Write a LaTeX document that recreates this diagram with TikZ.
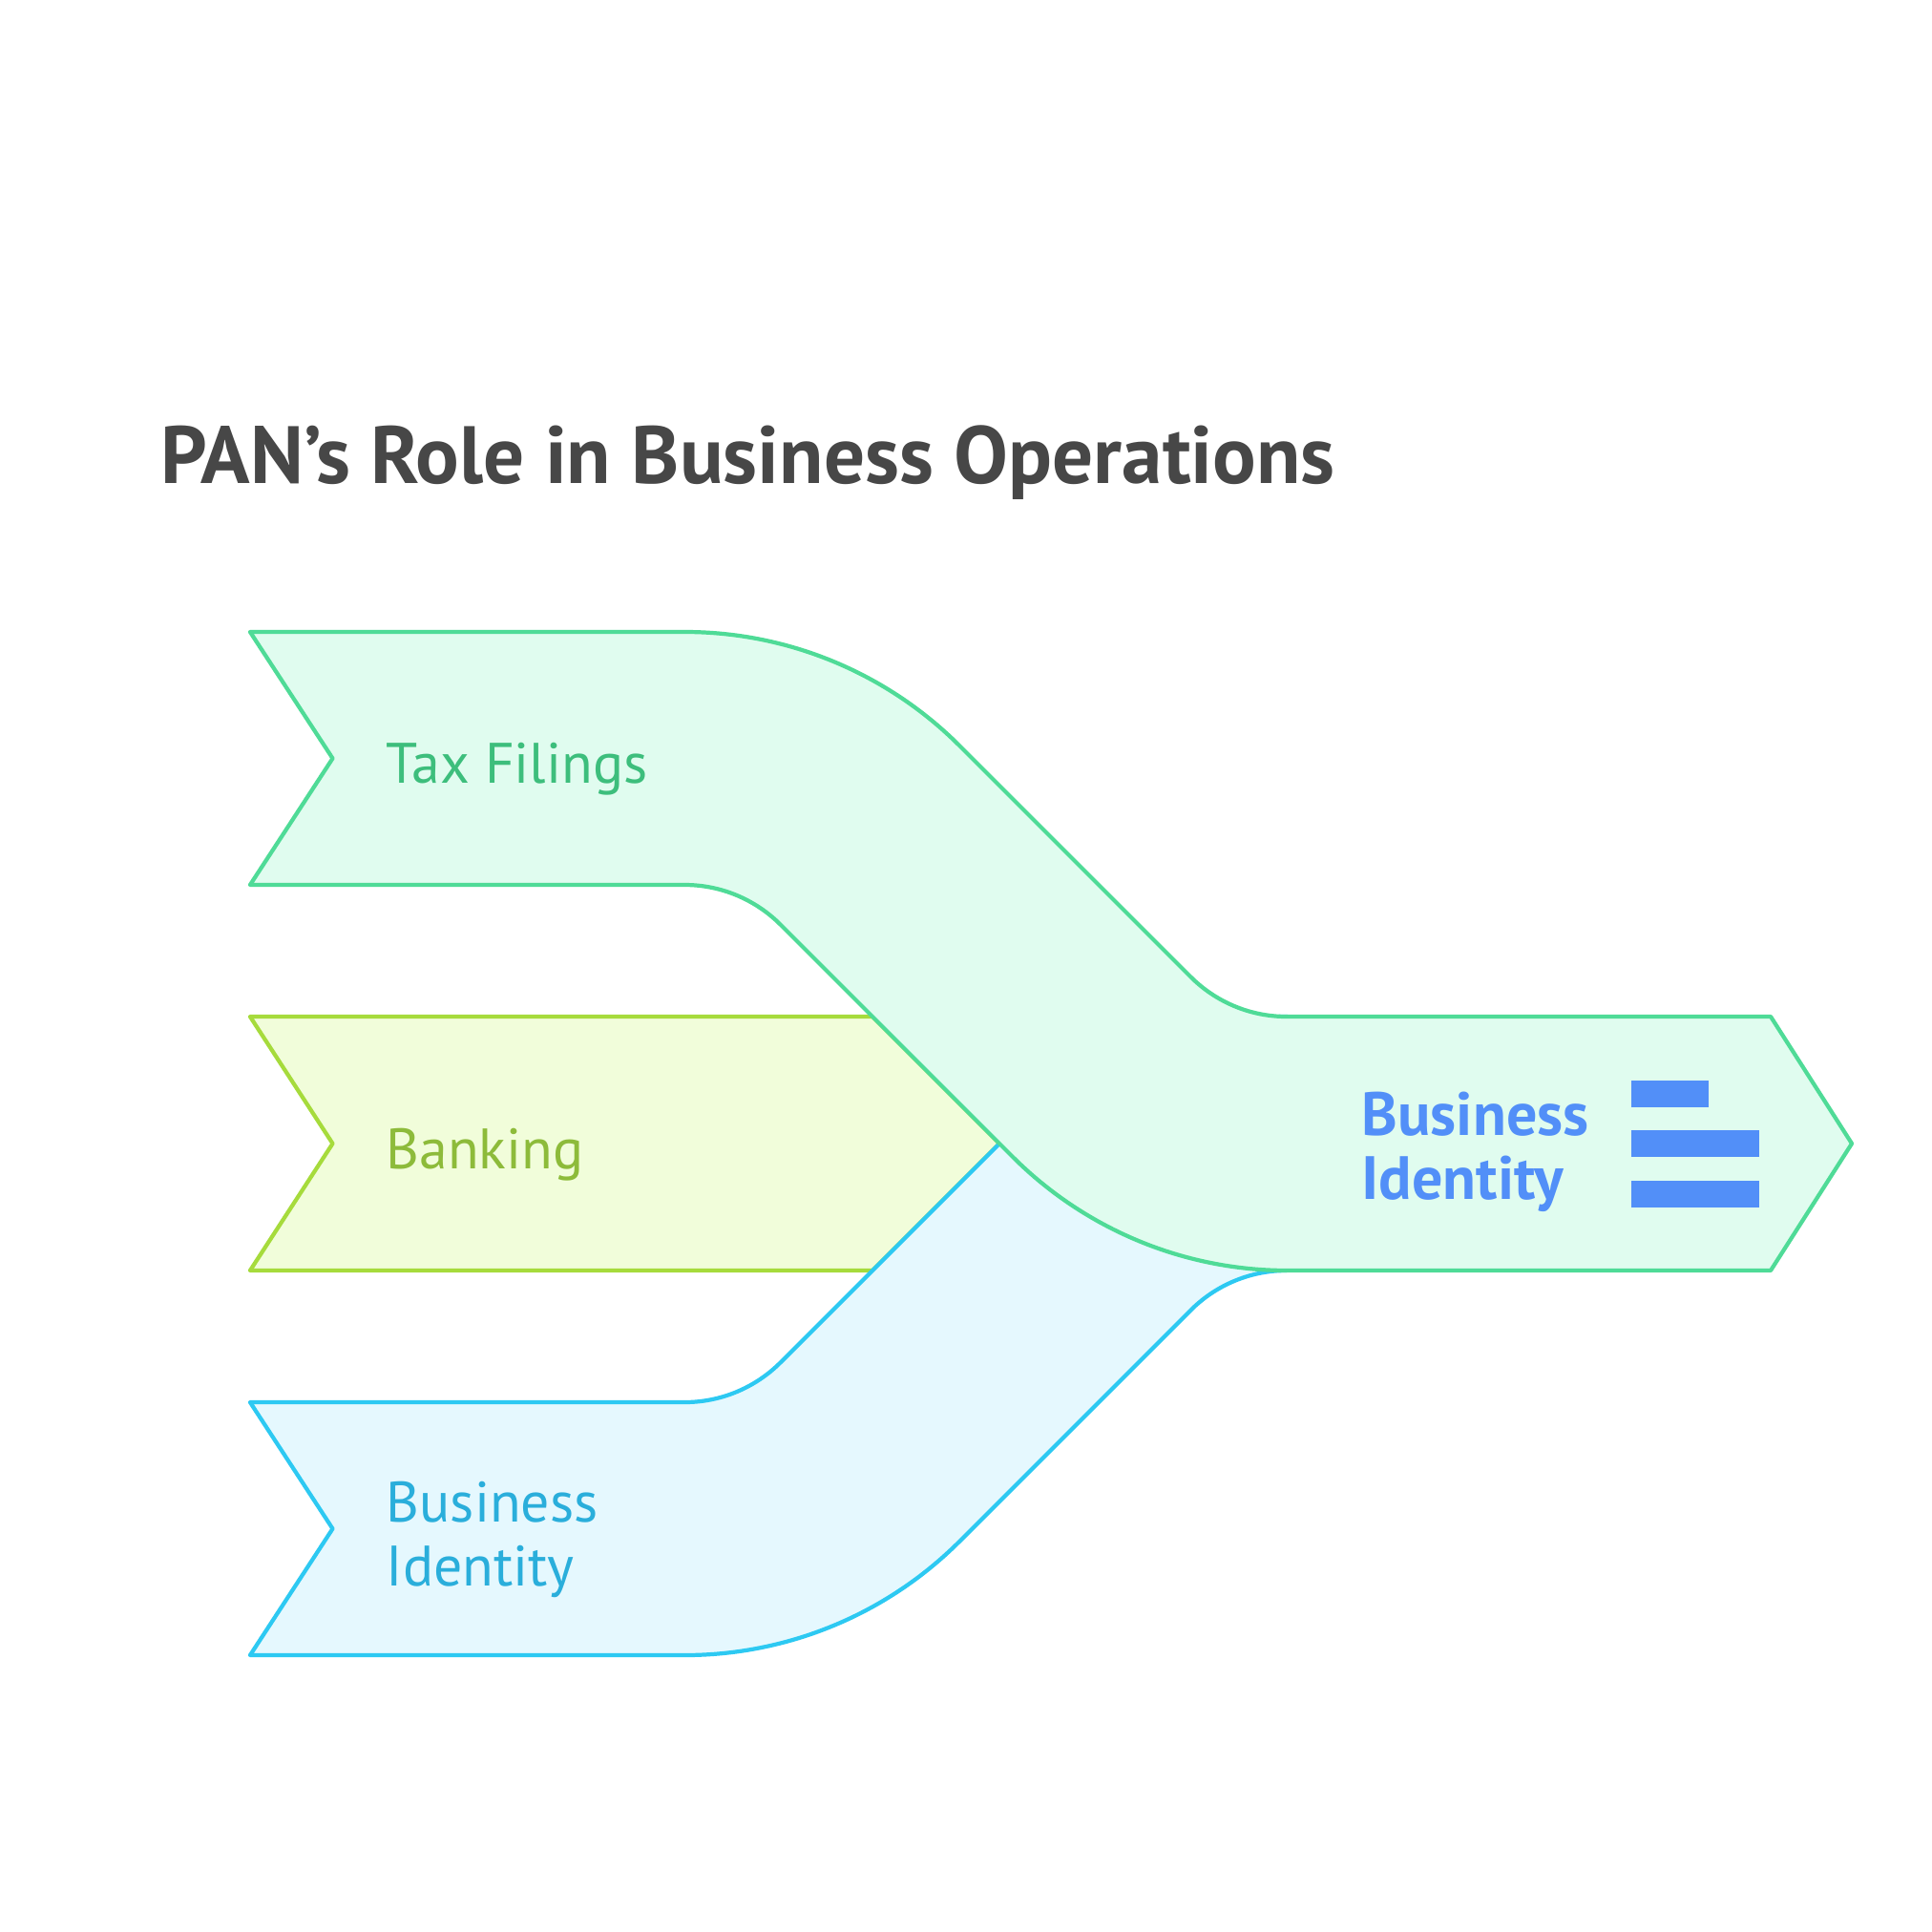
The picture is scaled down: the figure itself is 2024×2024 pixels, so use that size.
\documentclass[tikz,border=0pt]{standalone}
\usepackage{fontspec}
\setmainfont{PT Sans}
\usepackage{tikz}
\definecolor{titlegray}{HTML}{474747}
\definecolor{taxline}{HTML}{4FDB97}
\definecolor{taxfill}{HTML}{E0FCEF}
\definecolor{taxtext}{HTML}{3DBE7C}
\definecolor{bankline}{HTML}{A6DB3C}
\definecolor{bankfill}{HTML}{F1FDDA}
\definecolor{banktext}{HTML}{8DBB3A}
\definecolor{identline}{HTML}{2DC9F2}
\definecolor{identfill}{HTML}{E5F8FE}
\definecolor{identtext}{HTML}{2AAEDB}
\definecolor{outblue}{HTML}{528FF8}
\tikzstyle{band} = [line width=1.2pt, line join=round]
\tikzstyle{bandlabel} = [inner sep=0pt, font=\fontsize{17}{19}\selectfont]
\tikzstyle{bar} = [fill=outblue]

\begin{document}
\begin{tikzpicture}[x=0.01cm, y=-0.01cm]
	\useasboundingbox (0,0) rectangle (2024,2024);
	\fill[white] (0,0) rectangle (2024,2024);
	\node[anchor=base west, inner sep=0pt, text=titlegray, font=\fontsize{24.2}{28}\selectfont\bfseries] (title) at (168,506) {PAN's Role in Business Operations};
	\draw[band, draw=bankline, fill=bankfill] (262,1065) -- (914,1065) -- (1047,1198) -- (914,1331) -- (262,1331) -- (348.5,1198) -- cycle;
	\draw[band, draw=identline, fill=identfill] (262,1734) -- (717.4,1734) .. controls (825.3,1734) and (928.9,1691.1) .. (1005.2,1614.8) -- (1247.4,1372.6) .. controls (1274,1346) and (1310.1,1331) .. (1347.8,1331) -- (1348.6,1065) .. controls (1240.7,1065) and (1137.1,1107.9) .. (1060.8,1184.2) -- (817.6,1427.4) .. controls (791,1454) and (754.9,1469) .. (717.2,1469) -- (262,1469) -- (348.5,1601.5) -- cycle;
	\draw[band, draw=taxline, fill=taxfill] (262,662) -- (717.4,662) .. controls (825.3,662) and (928.9,704.9) .. (1005.2,781.2) -- (1247.4,1023.4) .. controls (1274,1050) and (1310.1,1065) .. (1347.8,1065) -- (1855,1065) -- (1940,1198) -- (1855,1331) -- (1348.6,1331) .. controls (1240.7,1331) and (1137.1,1288.1) .. (1060.8,1211.8) -- (817.6,968.6) .. controls (791,942) and (754.9,927) .. (717.2,927) -- (262,927) -- (348.5,794.5) -- cycle;
	\node[bandlabel, anchor=base west, text=taxtext] (taxlabel) at (404,820) {Tax Filings};
	\node[bandlabel, anchor=base west, text=banktext] (banklabel) at (404,1224) {Banking};
	\node[bandlabel, anchor=west, align=left, text=identtext] (identlabel) at (404,1613) {Business\\Identity};
	\node[bandlabel, anchor=west, align=left, text=outblue, font=\fontsize{18.2}{19}\selectfont\bfseries] (outlabel) at (1426,1207) {Business\\Identity};
	\fill[bar] (1709,1132) rectangle (1790,1160);
	\fill[bar] (1709,1184) rectangle (1843,1212);
	\fill[bar] (1709,1237) rectangle (1843,1265);
\end{tikzpicture}
\end{document}
